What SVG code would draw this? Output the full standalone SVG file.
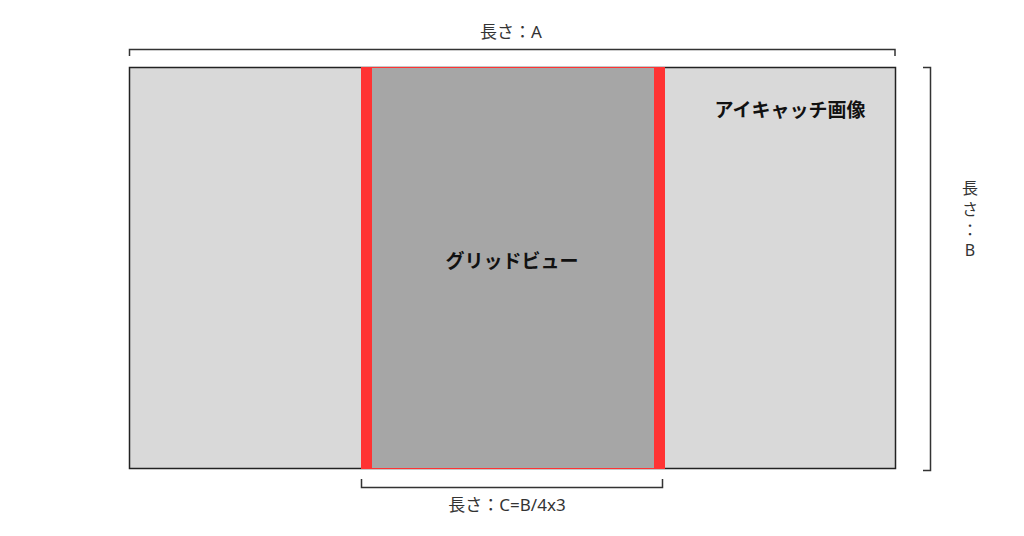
<svg xmlns="http://www.w3.org/2000/svg" width="1024" height="536" viewBox="0 0 1024 536">
<style>
.t{font-family:"Noto Sans","Noto Sans CJK JP",sans-serif;fill:#333;font-size:17px}
.v{font-family:"Noto Sans","Noto Sans CJK JP",sans-serif;fill:#333;font-size:16px}
.b{font-family:"Noto Sans CJK JP","Noto Sans",sans-serif;fill:#111;font-size:19px;font-weight:bold}
.br{fill:none;stroke:#333;stroke-width:1.5}
</style>
<rect width="1024" height="536" fill="#fff"/>
<g id="eyecatch">
<rect x="129.5" y="67.5" width="766" height="401" fill="#d9d9d9" stroke="#222" stroke-width="1.5"/>
<text class="b" x="790" y="117" text-anchor="middle">アイキャッチ画像</text>
</g>
<g id="gridview">
<rect x="361" y="67" width="304" height="402" fill="#ff3333"/>
<rect x="372" y="68" width="282" height="400" fill="#a6a6a6"/>
<text class="b" x="512" y="268" text-anchor="middle">グリッドビュー</text>
</g>
<g id="connectors">
<path class="br" d="M129.5 56V49.5H895V56"/>
<path class="br" d="M923 67.5H930.5V470.5H923"/>
<path class="br" d="M361.5 479V487.5H662.5V479"/>
</g>
<g id="labels">
<text class="t" x="511" y="38" text-anchor="middle">長さ：A</text>
<text class="t" x="507" y="511" text-anchor="middle">長さ：C=B/4x3</text>
<text class="v" x="970" y="194" text-anchor="middle">長</text>
<text class="v" x="970" y="215" text-anchor="middle">さ</text>
<text class="v" x="970" y="236" text-anchor="middle">：</text>
<text class="v" x="970" y="256" text-anchor="middle">B</text>
</g>
</svg>
